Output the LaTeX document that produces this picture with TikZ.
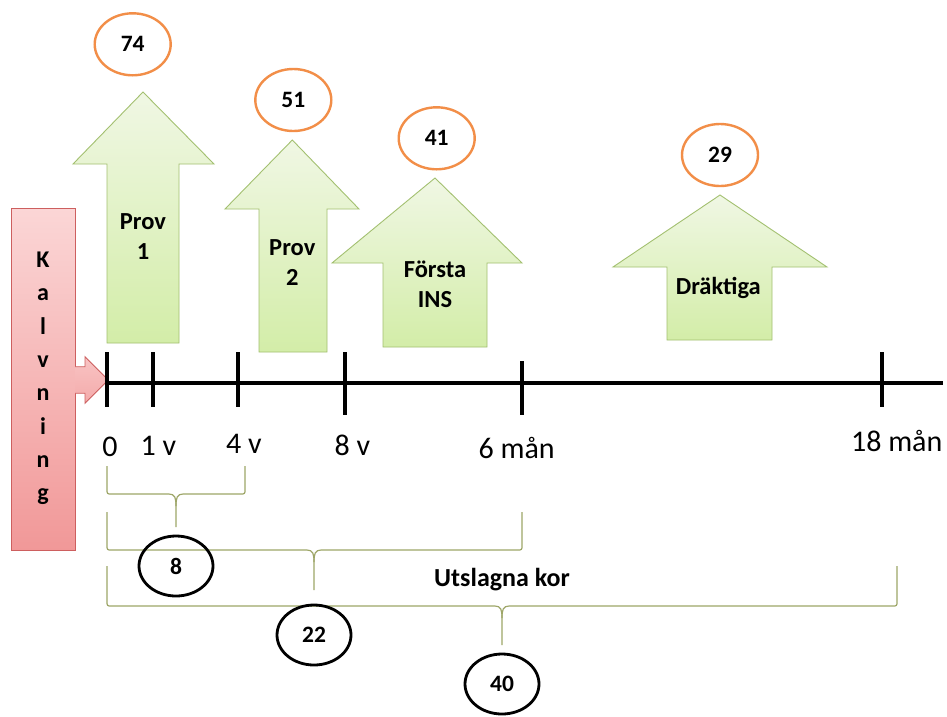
\documentclass[tikz,border=0pt]{standalone}
\usepackage{fontspec}
\setmainfont{Carlito}
\usetikzlibrary{shapes.geometric}

\definecolor{arrowtop}{RGB}{240,247,228}
\definecolor{arrowbot}{RGB}{211,237,168}
\definecolor{arrowline}{RGB}{163,192,112}
\definecolor{pinktop}{RGB}{251,214,214}
\definecolor{pinkbot}{RGB}{241,152,152}
\definecolor{pinkline}{RGB}{205,95,95}
\definecolor{ringorange}{RGB}{242,142,72}
\definecolor{bracecol}{RGB}{158,166,104}

% up-pointing block arrow: tip x, tip y, head left, head right, head base y,
% shaft left, shaft right, bottom y
\newcommand\upblock[8]{%
  \shadedraw[top color=arrowtop,bottom color=arrowbot,draw=arrowline,line width=0.9,line join=miter]
    (#1,#2) -- (#4,#5) -- (#7,#5) -- (#7,#8) -- (#6,#8) -- (#6,#5) -- (#3,#5) -- cycle;}

% horizontal brace opening upwards: left x, right x, top y, bar y, cusp x, stem end y
\newcommand\spanbrace[6]{%
  \draw[bracecurve] (#1,#3) -- (#1,#4-5) .. controls (#1,#4) .. (#1+5,#4)
     -- (#5-7,#4) .. controls (#5-1,#4) and (#5,#4+4) .. (#5,#4+12) -- (#5,#6);
  \draw[bracecurve] (#2,#3) -- (#2,#4-5) .. controls (#2,#4) .. (#2-5,#4)
     -- (#5+7,#4) .. controls (#5+1,#4) and (#5,#4+4) .. (#5,#4+12);}

\tikzset{
  bracecurve/.style={draw=bracecol,line width=1.2},
  ring/.style={ellipse,draw=ringorange,line width=2.4,minimum width=76,minimum height=62,
    inner sep=0,font=\bfseries\fontsize{23.5}{26}\selectfont},
  count/.style={ellipse,draw=black,line width=2.8,minimum width=74,minimum height=60,
    inner sep=0,font=\bfseries\fontsize{23.5}{26}\selectfont},
  lbl/.style={font=\bfseries\fontsize{24.5}{30}\selectfont,align=center,inner sep=0},
  ticklbl/.style={font=\fontsize{30}{36}\selectfont,inner sep=0,anchor=base},
  tickmark/.style={line width=4},
  letter/.style={font=\bfseries\fontsize{24}{28}\selectfont,inner sep=0,anchor=base},
}

\begin{document}
\begin{tikzpicture}[x=1pt,y=-1pt]
\useasboundingbox[fill=white] (0,0) rectangle (947,716);

% calving box and its arrow onto the time line
\shadedraw[top color=pinktop,bottom color=pinkbot,draw=pinkline,line width=0.8]
  (11.5,208) rectangle (75,550);
\shade[top color=pinktop!70!pinkbot,bottom color=pinktop!30!pinkbot]
  (75,366.7) -- (85,366.7) -- (85,356.7) -- (108.3,380) -- (85,403.3) -- (85,393.3) -- (75,393.3) -- cycle;
\draw[draw=pinkline,line width=0.8,line join=miter]
  (75,366.7) -- (85,366.7) -- (85,356.7) -- (108.3,380) -- (85,403.3) -- (85,393.3) -- (75,393.3);
\foreach \ch [count=\i from 0] in {K,a,l,v,n,i,n,g}
  \node[letter] (k\i) at (43,267.5+33.3*\i) {\ch};

% event arrows
\upblock{143}{92}{73}{214}{164}{107}{179}{343}
\upblock{292.3}{140}{225}{359}{209}{259}{327}{352}
\upblock{435}{178}{332}{522}{263}{383}{487}{347}
\upblock{720}{195}{613}{827}{267}{667}{772}{340}

\node[lbl] (prov1) at (143,236.7) {Prov\\1};
\node[lbl] (prov2) at (292.3,263) {Prov\\2};
\node[lbl] (ins) at (435,284) {Första\\INS};
\node[lbl] (drakt) at (718.3,288.3) {Dräktiga};

% counts above the arrows
\node[ring] (n74) at (132.7,44.3) {74};
\node[ring] (n51) at (293.3,100) {51};
\node[ring] (n41) at (436.7,138.3) {41};
\node[ring] (n29) at (720,155) {29};

% time line
\coordinate (t0) at (107,383);
\coordinate (tend) at (943,383);
\draw[line width=3.2] (106,383) -- (tend);
\draw[tickmark] (107,352) -- (107,407);
\draw[tickmark] (153,352) -- (153,407);
\draw[tickmark] (238,352) -- (238,407);
\draw[tickmark] (345,352) -- (345,415);
\draw[tickmark] (522,361) -- (522,415);
\draw[tickmark] (882,352) -- (882,407);

\node[ticklbl] (l0) at (110,456.5) {0};
\node[ticklbl] (l1) at (158.3,455) {1 v};
\node[ticklbl] (l4) at (244,453.5) {4 v};
\node[ticklbl] (l8) at (352.5,455) {8 v};
\node[ticklbl] (l6) at (516.7,458.3) {6 mån};
\node[ticklbl] (l18) at (896.7,451.7) {18 mån};

% culled cows per period
\spanbrace{107}{245}{466}{494}{176}{527}
\spanbrace{107}{522}{512}{550}{314}{590}
\spanbrace{107}{897}{566}{606}{502}{645}

\node[font=\bfseries\fontsize{26}{30}\selectfont,inner sep=0] (culled) at (502,580) {Utslagna kor};

\node[count] (n8) at (176,566) {8};
\node[count] (n22) at (314,635) {22};
\node[count] (n40) at (502,684) {40};
\end{tikzpicture}
\end{document}
